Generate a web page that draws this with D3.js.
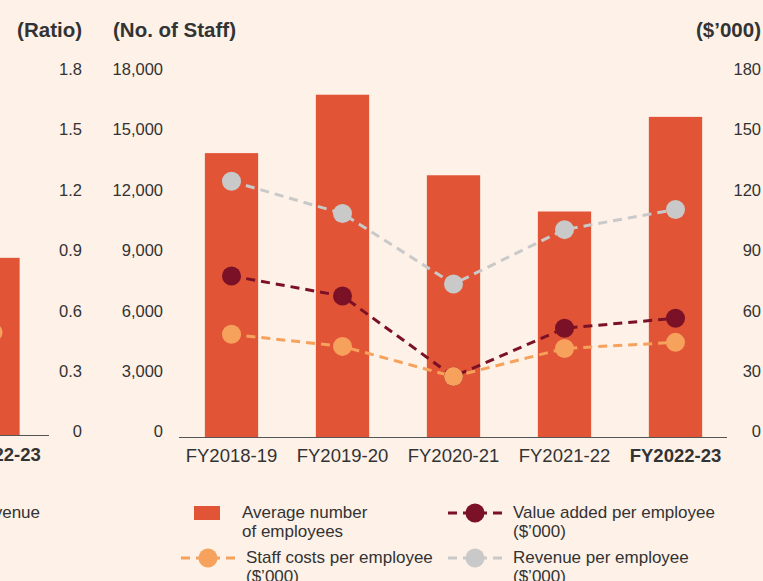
<!DOCTYPE html>
<html>
<head>
<meta charset="utf-8">
<script src="https://cdn.jsdelivr.net/npm/d3@7"></script>
<style>
  body { margin: 0; background: #fdf1e8; }
  svg { display: block; font-family: "Liberation Sans", Arial, sans-serif; }
</style>
</head>
<body>
<div id="chart"></div>
<script>
'use strict'

// main chart data
const years = ['FY2018-19', 'FY2019-20', 'FY2020-21', 'FY2021-22', 'FY2022-23']
const employees = [14100, 17000, 13000, 11200, 15900]
const valueAdded = [80, 70, 30, 54, 59]
const staffCosts = [51, 45, 30, 44, 47]
const revenuePerEmp = [127, 111, 76, 103, 113]

const staffTicks = [0, 3000, 6000, 9000, 12000, 15000, 18000]
const dollarTicks = [0, 30, 60, 90, 120, 150, 180]
const ratioTicks = [0, 0.3, 0.6, 0.9, 1.2, 1.5, 1.8]

// neighbouring chart, only its last year shows at the left edge
const prevYears = ['FY2022-23']
const prevBar = [0.88]
const prevLine = [0.51]

const legendItems = [
    {type: 'bar', color: '#e25436', lines: ['Average number', 'of employees']},
    {type: 'line', color: '#7b1126', lines: ['Value added per employee', '($\u2019000)']},
    {type: 'line', color: '#f6a25c', lines: ['Staff costs per employee', '($\u2019000)']},
    {type: 'line', color: '#c9c9c9', lines: ['Revenue per employee', '($\u2019000)']}
]

let chart = ((selector = '#chart') => {

    ////////////////////////////////////
    //////////// svg setup /////////////
    ////////////////////////////////////

    var svgWidth = 763
    var svgHeight = 581

    var margin = {left: 176, right: 32, top: 74.6, bottom: 144}
    const baseY = svgHeight - margin.bottom   // 437

    const svg = d3.select(selector).append('svg')
        .attr('width', svgWidth)
        .attr('height', svgHeight)

    svg.append('rect')
        .attr('width', svgWidth).attr('height', svgHeight)
        .attr('fill', '#fdf1e8')

    const textColor = '#333333'
    const barColor = '#e25436'

    ////////////////////////////////////
    //////////////scales////////////////
    ////////////////////////////////////

    var xScale = d3.scaleBand()
        .domain(years)
        .range([margin.left, svgWidth - margin.right])
        .paddingInner(0.52)
        .paddingOuter(0.26)

    var yStaff = d3.scaleLinear()
        .domain([0, 18000])
        .range([baseY, margin.top])

    var yDollar = d3.scaleLinear()
        .domain([0, 180])
        .range([baseY, margin.top])

    // left neighbour chart sits one step to the left of the window
    var xPrev = d3.scaleBand()
        .domain(prevYears)
        .range([-62.5, 48.5])
        .paddingInner(0.52)
        .paddingOuter(0.26)

    var yRatio = d3.scaleLinear()
        .domain([0, 1.8])
        .range([baseY - 2, margin.top - 2])

    ////////////////////////////////////
    ////////// axis labels /////////////
    ////////////////////////////////////

    const tickFont = 16.5

    svg.append('g').selectAll('text')
        .data(ratioTicks).enter().append('text')
        .attr('x', 82).attr('y', d => yRatio(d) - 2)
        .attr('dominant-baseline', 'middle')
        .attr('text-anchor', 'end')
        .attr('font-size', tickFont).attr('fill', textColor)
        .text(d => d === 0 ? '0' : d3.format('.1f')(d))

    svg.append('g').selectAll('text')
        .data(staffTicks).enter().append('text')
        .attr('x', 163).attr('y', d => yStaff(d) - 4)
        .attr('dominant-baseline', 'middle')
        .attr('text-anchor', 'end')
        .attr('font-size', tickFont).attr('fill', textColor)
        .text(d => d3.format(',')(d))

    svg.append('g').selectAll('text')
        .data(dollarTicks).enter().append('text')
        .attr('x', 761).attr('y', d => yDollar(d) - 4)
        .attr('dominant-baseline', 'middle')
        .attr('text-anchor', 'end')
        .attr('font-size', tickFont).attr('fill', textColor)
        .text(d => d)

    // unit titles
    const titles = [
        {t: '(Ratio)', x: 82, anchor: 'end'},
        {t: '(No. of Staff)', x: 113, anchor: 'start'},
        {t: '($\u2019000)', x: 761, anchor: 'end'}
    ]
    svg.append('g').selectAll('text')
        .data(titles).enter().append('text')
        .attr('x', d => d.x).attr('y', 37)
        .attr('text-anchor', d => d.anchor)
        .attr('font-size', 20.5).attr('font-weight', 'bold')
        .attr('fill', textColor)
        .text(d => d.t)

    ////////////////////////////////////
    ///////// neighbour chart //////////
    ////////////////////////////////////

    svg.selectAll('.prev-bar')
        .data(prevBar).enter().append('rect')
        .attr('class', 'prev-bar')
        .attr('x', (d, i) => xPrev(prevYears[i]))
        .attr('y', d => yRatio(d))
        .attr('width', xPrev.bandwidth())
        .attr('height', d => yRatio(0) - yRatio(d))
        .attr('fill', barColor)

    svg.append('line')
        .attr('x1', -70).attr('x2', 49)
        .attr('y1', yRatio(0) + 0.5).attr('y2', yRatio(0) + 0.5)
        .attr('stroke', '#555').attr('stroke-width', 1.2)

    svg.selectAll('.prev-dot')
        .data(prevLine).enter().append('circle')
        .attr('class', 'prev-dot')
        .attr('cx', (d, i) => xPrev(prevYears[i]) + xPrev.bandwidth() / 2)
        .attr('cy', d => yRatio(d))
        .attr('r', 9.5)
        .attr('fill', '#f6a25c')

    svg.selectAll('.prev-label')
        .data(prevYears).enter().append('text')
        .attr('class', 'prev-label')
        .attr('x', d => xPrev(d) + xPrev.bandwidth() / 2 + 2)
        .attr('y', 461)
        .attr('text-anchor', 'middle')
        .attr('font-size', 18.5).attr('font-weight', 'bold')
        .attr('fill', textColor)
        .text(d => d)

    svg.append('text')
        .attr('x', 40).attr('y', 518)
        .attr('text-anchor', 'end')
        .attr('font-size', 17).attr('fill', textColor)
        .text('revenue')

    ////////////////////////////////////
    //////////// main chart ////////////
    ////////////////////////////////////

    svg.selectAll('.bars')
        .data(employees).enter().append('rect')
        .attr('class', 'bars')
        .attr('x', (d, i) => xScale(years[i]))
        .attr('y', d => yStaff(d))
        .attr('width', xScale.bandwidth())
        .attr('height', d => yStaff(0) - yStaff(d))
        .attr('fill', barColor)

    svg.append('line')
        .attr('x1', 179).attr('x2', 727)
        .attr('y1', baseY + 0.5).attr('y2', baseY + 0.5)
        .attr('stroke', '#555').attr('stroke-width', 1.2)

    var cx = (d, i) => xScale(years[i]) + xScale.bandwidth() / 2

    const series = [
        {vals: revenuePerEmp, color: '#c9c9c9'},
        {vals: valueAdded, color: '#7b1126'},
        {vals: staffCosts, color: '#f6a25c'}
    ]

    var line = d3.line()
        .x(cx)
        .y(d => yDollar(d))

    series.forEach(s => {
        svg.append('path')
            .datum(s.vals)
            .attr('d', line)
            .attr('fill', 'none')
            .attr('stroke', s.color)
            .attr('stroke-width', 3)
            .style('stroke-dasharray', '9, 6')
    })

    series.forEach(s => {
        svg.append('g').selectAll('circle')
            .data(s.vals).enter().append('circle')
            .attr('cx', cx)
            .attr('cy', d => yDollar(d))
            .attr('r', 9.5)
            .attr('fill', s.color)
    })

    svg.selectAll('.x-label')
        .data(years).enter().append('text')
        .attr('class', 'x-label')
        .attr('x', d => xScale(d) + xScale.bandwidth() / 2)
        .attr('y', 462)
        .attr('text-anchor', 'middle')
        .attr('font-size', 18.5)
        .attr('font-weight', (d, i) => i === years.length - 1 ? 'bold' : 'normal')
        .attr('fill', textColor)
        .text(d => d)

    ////////////////////////////////////
    ////////////// legend //////////////
    ////////////////////////////////////

    const legPos = [[208, 513], [475, 513], [208, 558], [475, 558]]

    var leg = svg.append('g').selectAll('g')
        .data(legendItems).enter().append('g')
        .attr('transform', (d, i) => `translate(${legPos[i][0]},${legPos[i][1]})`)

    leg.filter(d => d.type === 'bar').append('rect')
        .attr('x', -14).attr('y', -7)
        .attr('width', 26).attr('height', 14)
        .attr('fill', d => d.color)

    leg.filter(d => d.type === 'line').append('line')
        .attr('x1', -27).attr('x2', 27)
        .attr('stroke', d => d.color)
        .attr('stroke-width', 3)
        .style('stroke-dasharray', '9, 6')

    leg.filter(d => d.type === 'line').append('circle')
        .attr('r', 9.5)
        .attr('fill', d => d.color)

    leg.append('text')
        .attr('x', (d, i) => d.type === 'bar' ? 34 : 38)
        .attr('y', 5)
        .attr('font-size', 17)
        .attr('fill', textColor)
        .selectAll('tspan')
        .data(d => d.lines).enter().append('tspan')
        .attr('x', function() { return this.parentNode.getAttribute('x') })
        .attr('dy', (d, i) => i === 0 ? 0 : 18.5)
        .text(d => d)

})()
</script>
</body>
</html>
